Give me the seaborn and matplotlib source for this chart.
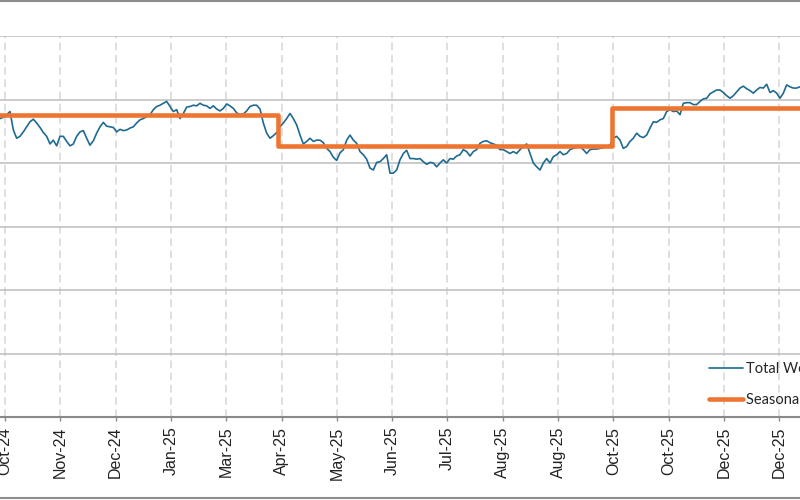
import numpy as np
import pandas as pd
import matplotlib
matplotlib.use("Agg")
import matplotlib.pyplot as plt
import seaborn as sns
from matplotlib.lines import Line2D

# ---- data ----
total_values = [
    47.0, 47.2, 47.6, 48.1, 45.2, 43.9, 44.2, 44.9, 45.7, 46.5, 46.9, 46.3, 45.6, 44.8, 44.2, 43.0,
    43.6, 42.7, 44.2, 44.2, 43.4, 42.7, 43.0, 44.2, 44.9, 45.1, 43.9, 42.8, 43.5, 44.7, 45.7, 46.4,
    45.8, 45.7, 45.6, 44.9, 45.3, 45.1, 45.2, 45.5, 45.7, 46.3, 46.8, 47.0, 47.3, 47.6, 48.4, 48.9,
    49.1, 49.4, 49.7, 48.9, 48.1, 48.4, 47.0, 47.8, 48.8, 48.9, 49.1, 49.0, 49.4, 49.1, 49.0, 48.6,
    49.0, 48.5, 48.2, 48.6, 49.3, 49.0, 48.6, 47.9, 47.6, 47.7, 48.2, 48.9, 49.1, 49.1, 48.5, 46.3,
    44.7, 43.9, 44.3, 44.8, 45.7, 46.3, 47.0, 47.8, 47.0, 46.0, 44.4, 43.0, 43.4, 43.9, 43.4, 43.6,
    43.6, 43.2, 42.3, 41.8, 40.9, 40.4, 41.6, 42.1, 43.6, 44.4, 43.6, 43.1, 41.8, 41.3, 40.6, 39.2,
    38.9, 40.1, 40.2, 40.7, 41.3, 38.4, 38.4, 38.9, 40.5, 41.5, 42.0, 40.7, 40.7, 40.6, 40.7, 40.2,
    39.8, 40.1, 40.0, 39.4, 40.0, 40.5, 40.0, 40.7, 40.6, 41.1, 41.3, 42.1, 41.8, 41.1, 41.8, 42.1,
    43.1, 43.4, 43.5, 43.2, 43.0, 42.8, 42.1, 42.1, 41.8, 41.5, 41.8, 41.5, 42.1, 42.6, 43.0, 41.5,
    40.0, 39.4, 38.9, 40.0, 40.7, 40.0, 41.0, 41.3, 41.8, 41.3, 41.5, 42.1, 42.3, 42.5, 42.6, 42.1,
    41.5, 42.1, 42.2, 42.2, 42.3, 42.4, 42.6, 42.8, 43.9, 44.2, 43.6, 42.3, 42.6, 43.4, 43.9, 44.7,
    44.2, 44.0, 44.4, 45.5, 46.5, 46.4, 46.8, 47.0, 48.1, 48.4, 48.1, 48.2, 47.6, 49.4, 49.5, 49.5,
    49.2, 49.2, 49.7, 50.1, 50.2, 50.9, 51.2, 51.5, 51.5, 51.1, 50.6, 50.2, 50.6, 51.2, 51.8, 52.1,
    51.7, 51.4, 51.0, 51.5, 51.9, 51.8, 52.4, 51.1, 51.4, 51.0, 50.2, 51.0, 52.3, 52.0, 51.8, 51.8,
    52.0,
]
seasonal_levels = [47.5, 42.6, 48.7]
seasonal_lengths = [84, 100, 57]
tick_labels = ["Oct-24", "Nov-24", "Dec-24", "Jan-25", "Mar-25", "Apr-25", "May-25", "Jun-25",
               "Jul-25", "Aug-25", "Aug-25", "Oct-25", "Oct-25", "Dec-25", "Dec-25"]
series_names = ["Total Weekly Average", "Seasonal Average"]
y_ticks = [0, 10, 20, 30, 40, 50, 60]

# ---- layout / style ----
tick_start, tick_step = 1.5, 16.59
BLUE = "#1F6A91"
ORANGE = "#EE7531"

sns.set_theme(style="white")
plt.rcParams["font.family"] = ["Liberation Sans", "DejaVu Sans"]

n = len(total_values)
seasonal = np.repeat(seasonal_levels, seasonal_lengths)[:n]
df = pd.DataFrame({"obs": np.arange(n), "total": total_values, "seasonal": seasonal})

fig = plt.figure(figsize=(8, 5), dpi=100)
ax = fig.add_axes([0.0, 0.166, 1.0, 0.762])

sns.lineplot(data=df, x="obs", y="total", ax=ax, color=BLUE, linewidth=1.2,
             label=series_names[0], zorder=3)
sns.lineplot(data=df, x="obs", y="seasonal", ax=ax, color=ORANGE, linewidth=3.3,
             drawstyle="steps-mid", label=series_names[1], zorder=4)

ax.set_xlim(0, n - 1)
ax.set_ylim(y_ticks[0], y_ticks[-1])
ax.set_yticks(y_ticks)
ax.set_xticks([tick_start + tick_step * k for k in range(len(tick_labels))])
ax.set_xticklabels(tick_labels, rotation=90, fontsize=11.5, color="#222222")
ax.set_xlabel("")
ax.set_ylabel("")

ax.yaxis.grid(True, color="#BDBDBD", linewidth=1.1)
ax.xaxis.grid(True, color="#D6D6D6", linewidth=1.1, linestyle=(0, (5, 3)))
ax.set_axisbelow(True)
ax.tick_params(axis="y", left=False, labelleft=False)
ax.tick_params(axis="x", bottom=True, length=3, width=1, color="#8A8A8A", pad=4)

for s in ["left", "right", "top"]:
    ax.spines[s].set_visible(False)
ax.spines["bottom"].set_color("#8A8A8A")
ax.spines["bottom"].set_linewidth(1.5)

handles, labels = ax.get_legend_handles_labels()
ax.get_legend().remove()
fig.legend(handles, labels, loc="upper left", bbox_to_anchor=(709 / 800, 1 - 362 / 500),
           frameon=False, borderpad=0, borderaxespad=0, handlelength=2.35,
           handletextpad=0.2, labelspacing=1.15,
           prop={"family": ["Lato", "DejaVu Sans"], "size": 10.5})

fig.add_artist(Line2D([0, 1], [0.998, 0.998], transform=fig.transFigure,
                      color="#8C8C8C", linewidth=1.5))
fig.add_artist(Line2D([0, 1], [0.004, 0.004], transform=fig.transFigure,
                      color="#8C8C8C", linewidth=1.5))

fig.savefig("out.png", dpi=100)
